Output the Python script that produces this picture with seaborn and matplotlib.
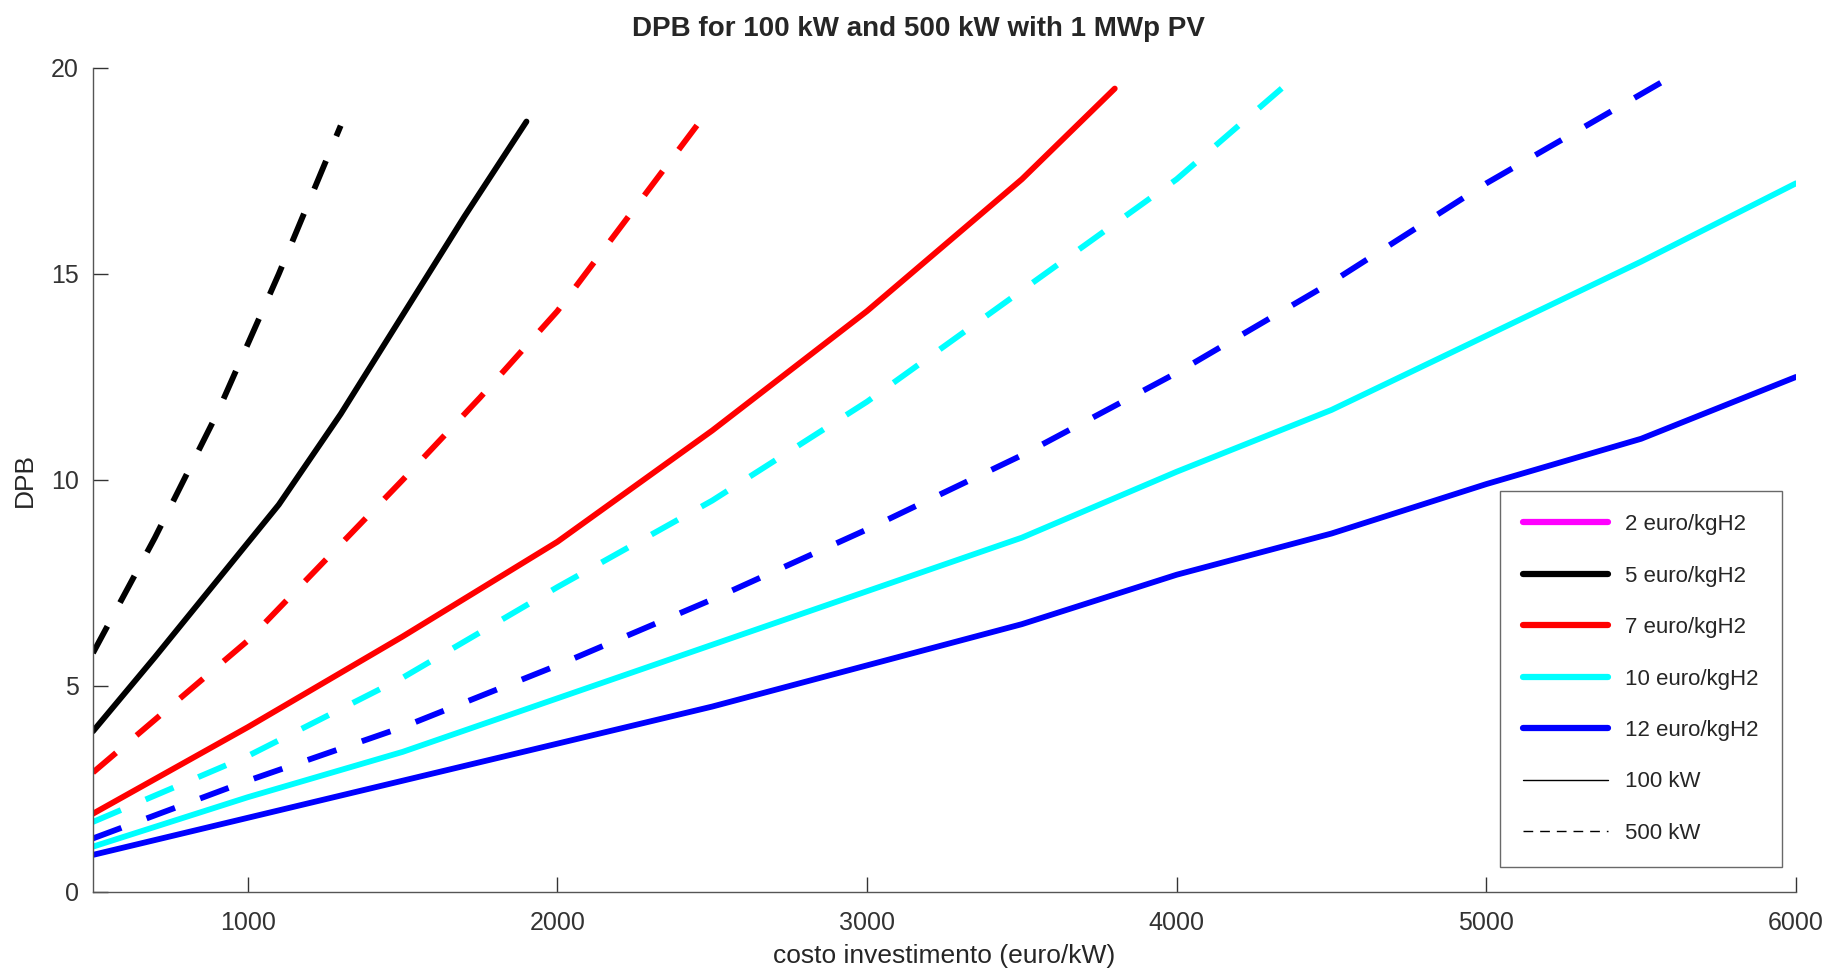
import numpy as np
import pandas as pd
import matplotlib
matplotlib.use("Agg")
import matplotlib.pyplot as plt
from matplotlib.lines import Line2D
import seaborn as sns

# costo investimento (euro/kW) vs DPB
x_5_100 = [500, 700, 900, 1100, 1300, 1500, 1700, 1900]
y_5_100 = [3.9, 5.7, 7.55, 9.4, 11.6, 14.0, 16.4, 18.7]
x_5_500 = [500, 700, 900, 1100, 1300]
y_5_500 = [5.8, 8.6, 11.6, 15.0, 18.6]

x_7_100 = [500, 1000, 1500, 2000, 2500, 3000, 3500, 3800]
y_7_100 = [1.9, 4.0, 6.2, 8.5, 11.2, 14.1, 17.3, 19.5]
x_7_500 = [500, 1000, 1500, 1750, 2000, 2250, 2500]
y_7_500 = [2.9, 6.1, 10.0, 12.0, 14.1, 16.6, 19.1]

x_10_100 = [500, 1000, 1500, 2000, 2500, 3000, 3500, 4000, 4500, 5000, 5500, 6000]
y_10_100 = [1.1, 2.3, 3.4, 4.7, 6.0, 7.3, 8.6, 10.2, 11.7, 13.5, 15.3, 17.2]
x_10_500 = [500, 1000, 1500, 2000, 2500, 3000, 3500, 4000, 4400]
y_10_500 = [1.7, 3.3, 5.2, 7.4, 9.5, 11.9, 14.6, 17.3, 19.9]

x_12_100 = [500, 1000, 1500, 2000, 2500, 3000, 3500, 4000, 4500, 5000, 5500, 6000]
y_12_100 = [0.9, 1.8, 2.7, 3.6, 4.5, 5.5, 6.5, 7.7, 8.7, 9.9, 11.0, 12.5]
x_12_500 = [500, 1000, 1500, 2000, 2500, 3000, 3500, 4000, 4500, 5000, 5600]
y_12_500 = [1.3, 2.7, 4.0, 5.5, 7.1, 8.8, 10.6, 12.6, 14.8, 17.2, 19.8]

prices = ["2 euro/kgH2", "5 euro/kgH2", "7 euro/kgH2", "10 euro/kgH2", "12 euro/kgH2"]
price_colors = ["#ff00ff", "#000000", "#ff0000", "#00ffff", "#0000ff"]
sizes = ["100 kW", "500 kW"]

series = [
    ("5 euro/kgH2", "100 kW", x_5_100, y_5_100),
    ("5 euro/kgH2", "500 kW", x_5_500, y_5_500),
    ("7 euro/kgH2", "100 kW", x_7_100, y_7_100),
    ("7 euro/kgH2", "500 kW", x_7_500, y_7_500),
    ("10 euro/kgH2", "100 kW", x_10_100, y_10_100),
    ("10 euro/kgH2", "500 kW", x_10_500, y_10_500),
    ("12 euro/kgH2", "100 kW", x_12_100, y_12_100),
    ("12 euro/kgH2", "500 kW", x_12_500, y_12_500),
]

rows = []
for price, size, xs, ys in series:
    for x, y in zip(xs, ys):
        rows.append({"price": price, "size": size, "costo": x, "DPB": y})
df = pd.DataFrame(rows)

sns.set_style("ticks")
plt.rcParams['font.family'] = ['Liberation Sans', 'DejaVu Sans']

fig = plt.figure(figsize=(18.27, 9.71), dpi=100)
ax = fig.add_axes([0.0509, 0.0814, 0.9321, 0.8486])

palette = dict(zip(prices, price_colors))
sns.lineplot(data=df, x="costo", y="DPB", hue="price", style="size",
             palette=palette, dashes={"100 kW": "", "500 kW": (5.2, 4.6)},
             estimator=None, sort=True,
             linewidth=4.2, legend=False, ax=ax)

ax.set_xlim(500, 6000)
ax.set_ylim(0, 20)
ax.set_xticks([1000, 2000, 3000, 4000, 5000, 6000])
ax.set_yticks([0, 5, 10, 15, 20])
ax.tick_params(direction="in", length=10.5, width=1, colors="#333333",
               labelsize=18)
ax.tick_params(axis="x", pad=14)
ax.tick_params(axis="y", pad=10)
for s in ["left", "bottom"]:
    ax.spines[s].set_color("#555555")
    ax.spines[s].set_linewidth(1)
sns.despine(ax=ax)

ax.set_xlabel("costo investimento (euro/kW)", fontsize=19, color="#262626", labelpad=6)
ax.set_ylabel("DPB", fontsize=19, color="#262626", labelpad=10)
ax.set_title("DPB for 100 kW and 500 kW with 1 MWp PV", fontsize=20,
             fontweight="bold", pad=23, x=0.485)

handles = [Line2D([], [], color=c, lw=4.5) for c in price_colors]
handles.append(Line2D([], [], color="black", lw=1))
handles.append(Line2D([], [], color="black", lw=1, dashes=(7, 5)))
labels = prices + sizes
leg = ax.legend(handles, labels, loc="lower right", bbox_to_anchor=(0.992, 0.030),
                fontsize=16, frameon=True, fancybox=False, edgecolor="#444444",
                handlelength=3.8, handletextpad=0.8, labelspacing=1.37,
                borderpad=1.05, borderaxespad=0)
leg.get_frame().set_linewidth(1)

fig.savefig("out.png", dpi=100)
